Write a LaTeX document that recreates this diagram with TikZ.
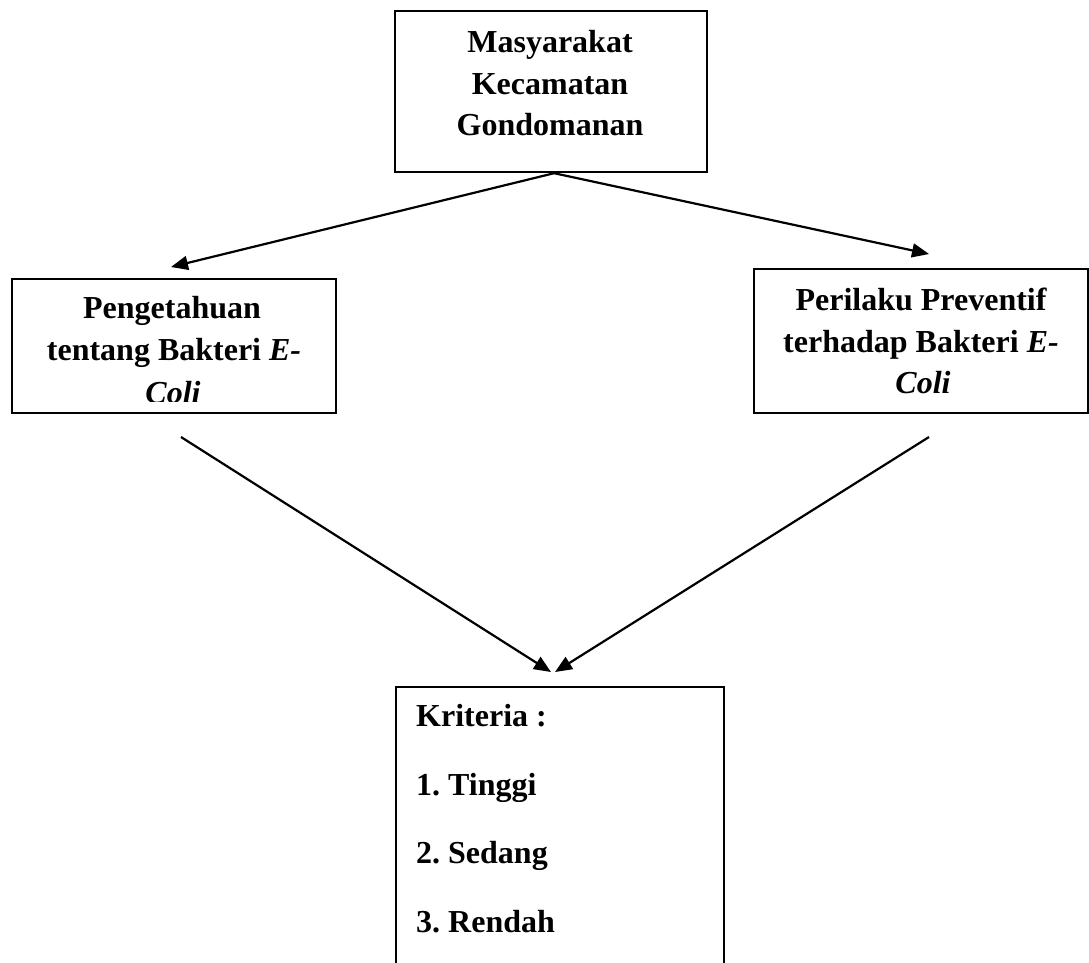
\documentclass[tikz,border=0pt]{standalone}
\usepackage{fontspec}
\setmainfont{Liberation Serif}
\usetikzlibrary{arrows.meta,calc}
\begin{document}
\frenchspacing
\begin{tikzpicture}[x=1pt,y=-1pt,
  box/.style={draw, line width=2.2pt, rectangle, inner sep=0pt, anchor=north west},
  txt/.style={font=\fontsize{32}{42}\selectfont\bfseries, inner sep=0pt, anchor=base},
  conn/.style={line width=2.2pt, -{Triangle[length=17pt,width=14pt]}}]
\path[use as bounding box, clip] (0,0) rectangle (1089,962);

% top box
\node[box, minimum width=312pt, minimum height=161pt] (top) at (394,10) {};
\node[txt] (t1) at (550,52) {Masyarakat};
\node[txt] (t2) at (550,94) {Kecamatan};
\node[txt] (t3) at (550,135) {Gondomanan};

% left box
\node[box, minimum width=324pt, minimum height=134pt] (left) at (11,278) {};
\begin{scope}
  \clip (12,279) rectangle (334,401.5);
  \node[txt] (l1) at (172,318) {Pengetahuan};
  \node[txt] (l2) at (174,360) {tentang Bakteri \textit{E-}};
  \node[txt] (l3) at (173,403.5) {\textit{Coli}};
\end{scope}

% right box
\node[box, minimum width=334pt, minimum height=144pt] (right) at (753,268) {};
\node[txt] (r1) at (921,310) {Perilaku Preventif};
\node[txt] (r2) at (921,352) {terhadap Bakteri \textit{E-}};
\node[txt] (r3) at (923,393) {\textit{Coli}};

% bottom box
\node[box, minimum width=328pt, minimum height=320pt] (crit) at (395,686) {};
\node[txt, anchor=base west] (k0) at (416,726) {Kriteria :};
\node[txt, anchor=base west] (k1) at (416,795) {1. Tinggi};
\node[txt, anchor=base west] (k2) at (416,863) {2. Sedang};
\node[txt, anchor=base west] (k3) at (416,932) {3. Rendah};

% connectors
\coordinate (apex) at ([xshift=3pt]top.south);
\coordinate (tipL) at (171,267);
\coordinate (tipR) at (929,254);
\coordinate (startL) at (181,437);
\coordinate (startR) at (929,437);
\coordinate (tipBL) at (551,672);
\coordinate (tipBR) at (555,672);
\draw[conn] (apex) -- (tipL);
\draw[conn] (apex) -- (tipR);
\draw[conn] (startL) -- (tipBL);
\draw[conn] (startR) -- (tipBR);
\end{tikzpicture}
\end{document}
